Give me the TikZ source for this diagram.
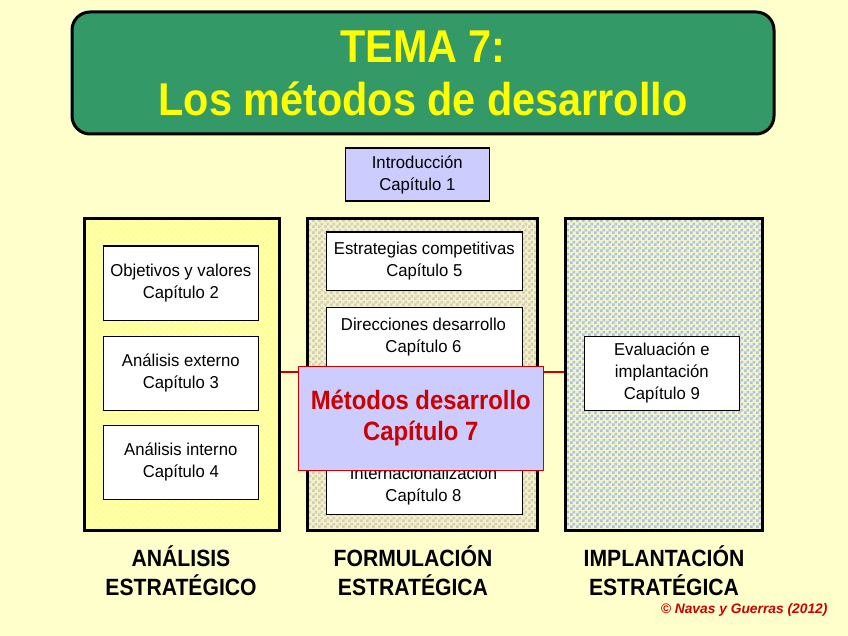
\documentclass[tikz,border=0pt]{standalone}
\usepackage{fontspec}
\usetikzlibrary{patterns}
\setmainfont{Liberation Sans}
\newfontfamily\narrowbold[FakeStretch=0.9]{Liberation Sans Bold}
\newfontfamily\narrowreg[FakeStretch=0.97]{Liberation Sans}
\definecolor{bgyel}{HTML}{FFFFCC}
\definecolor{titlegreen}{HTML}{339966}
\definecolor{titleyel}{HTML}{FFFF00}
\definecolor{lav}{HTML}{CCCCFF}
\definecolor{darkred}{HTML}{CC0000}
\definecolor{panelA}{HTML}{FFFF99}
\definecolor{panelAdots}{HTML}{FFFFB4}
\definecolor{panelB}{HTML}{F4F0C8}
\definecolor{panelBdots}{HTML}{D2CEB8}
\definecolor{panelC}{HTML}{F4F4C8}
\definecolor{panelCdots}{HTML}{A8C2E8}
\pgfdeclarepatternformonly{checker}{\pgfpointorigin}{\pgfpoint{6pt}{6pt}}{\pgfpoint{6pt}{6pt}}{%
  \pgfpathrectangle{\pgfpointorigin}{\pgfpoint{3pt}{3pt}}%
  \pgfpathrectangle{\pgfpoint{3pt}{3pt}}{\pgfpoint{3pt}{3pt}}%
  \pgfusepath{fill}}
\tikzset{
  panel/.style={draw=black, line width=2.6pt, anchor=north west, inner sep=0pt, pattern=checker},
  chapbox/.style={draw=black, line width=1.6pt, fill=white, anchor=north west, inner sep=0pt, align=center, font=\fontsize{17.2}{22}\narrowreg},
  phase/.style={align=center, font=\fontsize{23.5}{29}\narrowbold},
}
\begin{document}
\begin{tikzpicture}[x=1pt, y=-1pt]
\useasboundingbox (0,0) rectangle (848,636);
\fill[bgyel] (0,0) rectangle (848,636);
% title
\node[draw=black, line width=3pt, fill=titlegreen, rounded corners=18pt, anchor=north west, minimum width=702pt, minimum height=122pt, inner sep=0pt] (title) at (70.5,10.5) {};
\node[text=titleyel, font=\fontsize{46}{53}\narrowbold, align=center] (titletext) at (title.center) {TEMA 7:\\Los métodos de desarrollo};
% intro
\node[draw=black, line width=1.6pt, fill=lav, anchor=north west, minimum width=144pt, minimum height=53pt, inner sep=0pt, align=center, font=\fontsize{17.2}{22}\narrowreg] (intro) at (344.5,147.5) {Introducción\\Capítulo 1};
% panels
\node[panel, preaction={fill=panelA}, pattern color=panelAdots, minimum width=195pt, minimum height=312pt] (pA) at (83,217) {};
\node[panel, preaction={fill=panelB}, pattern color=panelBdots, minimum width=230pt, minimum height=312pt] (pB) at (306,217) {};
\node[panel, preaction={fill=panelC}, pattern color=panelCdots, minimum width=197pt, minimum height=312pt] (pC) at (564,217) {};
% left boxes
\node[chapbox, minimum width=155pt, minimum height=74pt] (c2) at (102.5,245.5) {Objetivos y valores\\Capítulo 2};
\node[chapbox, minimum width=155pt, minimum height=74pt] (c3) at (102.5,335.5) {Análisis externo\\Capítulo 3};
\node[chapbox, minimum width=155pt, minimum height=74pt] (c4) at (102.5,424.5) {Análisis interno\\Capítulo 4};
% middle boxes
\node[chapbox, minimum width=196pt, minimum height=58pt] (c5) at (325.5,231.5) {Estrategias competitivas\\Capítulo 5};
\node[chapbox, minimum width=196pt, minimum height=74pt] (c6) at (325.5,306.5) {};
\node[font=\fontsize{17.2}{22}\narrowreg, align=center] (c6t) at (423.5,337) {Direcciones desarrollo\\Capítulo 6};
\node[chapbox, minimum width=196pt, minimum height=74pt] (c8) at (325.5,439.5) {};
\node[font=\fontsize{17.2}{22}\narrowreg, align=center] (c8t) at (423.5,486) {Internacionalización\\Capítulo 8};
% right box
\node[chapbox, minimum width=155pt, minimum height=74pt] (c9) at (583.5,335.5) {Evaluación e\\implantación\\Capítulo 9};
% red connector
\draw[darkred, line width=1.6pt] (pA.east |- 0,372) -- (pC.west |- 0,372);
% big box
\node[draw=darkred, line width=1.6pt, fill=lav, anchor=north west, minimum width=245pt, minimum height=104pt, inner sep=0pt, align=center, text=darkred, font=\fontsize{26.5}{31}\narrowbold] (c7) at (297.5,365.5) {Métodos desarrollo\\Capítulo 7};
% phases
\node[phase] (fa) at (181,571) {ANÁLISIS\\ESTRATÉGICO};
\node[phase] (fb) at (413,571) {FORMULACIÓN\\ESTRATÉGICA};
\node[phase] (fc) at (664,571) {IMPLANTACIÓN\\ESTRATÉGICA};
\node[anchor=east, text=darkred, font=\fontsize{13.8}{16}\selectfont\bfseries\itshape] (copy) at (831,610) {© Navas y Guerras (2012)};
\end{tikzpicture}
\end{document}
